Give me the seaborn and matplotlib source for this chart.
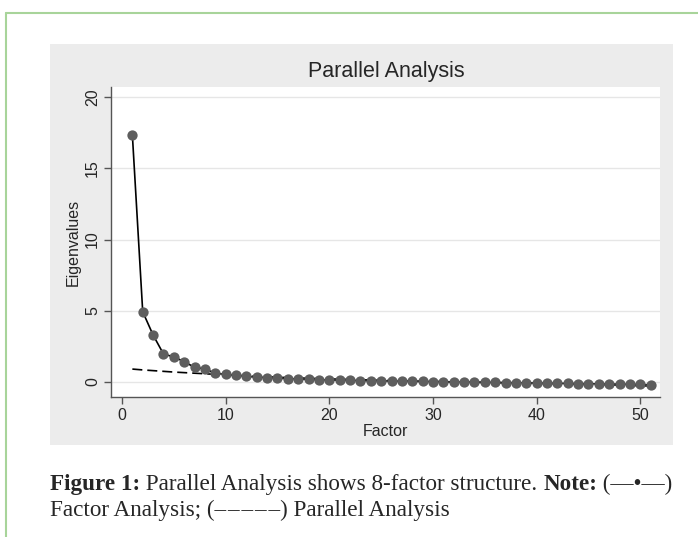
import numpy as np
import pandas as pd
import seaborn as sns
import matplotlib.pyplot as plt
from matplotlib.patches import Rectangle
from matplotlib.lines import Line2D

# Eigenvalues
factors = list(range(1, 52))
fa_eigen = [17.35, 4.93, 3.30, 1.97, 1.76, 1.43, 1.03, 0.92, 0.62, 0.53,
            0.48, 0.40, 0.34, 0.31, 0.27, 0.24, 0.22, 0.18, 0.16, 0.14,
            0.13, 0.12, 0.10, 0.09, 0.08, 0.07, 0.06, 0.05, 0.04, 0.03,
            0.02, 0.01, 0.00, -0.01, -0.02, -0.03, -0.04, -0.05, -0.06, -0.07,
            -0.08, -0.09, -0.10, -0.11, -0.12, -0.13, -0.14, -0.15, -0.16, -0.17,
            -0.20]
pa_eigen = [0.91, 0.85, 0.80, 0.75, 0.70, 0.66, 0.62, 0.58, 0.54, 0.50,
            0.47, 0.43, 0.40, 0.37, 0.34, 0.31, 0.29, 0.26, 0.24, 0.22,
            0.20, 0.18, 0.16, 0.14, 0.12, 0.10, 0.08, 0.07, 0.05, 0.04,
            0.02, 0.01, 0.00, -0.02, -0.03, -0.04, -0.06, -0.07, -0.08, -0.10,
            -0.11, -0.12, -0.14, -0.15, -0.17, -0.18, -0.20, -0.22, -0.24, -0.26,
            -0.28]

title = "Parallel Analysis"
x_ticks = [0, 10, 20, 30, 40, 50]
y_ticks = [0, 5, 10, 15, 20]

df = pd.DataFrame({"factor": factors, "fa": fa_eigen, "pa": pa_eigen})

sns.set_style("white")
plt.rcParams["font.family"] = ["Liberation Sans", "DejaVu Sans"]

W, H = 698, 537
fig = plt.figure(figsize=(W / 100, H / 100), dpi=100)
fig.patch.set_facecolor("white")

# green frame lines of the page
fig.add_artist(Line2D([6 / W, 1], [1 - 13 / H, 1 - 13 / H], color="#a8d49a", lw=1.5))
fig.add_artist(Line2D([6 / W, 6 / W], [0, 1 - 13 / H], color="#a8d49a", lw=1.5))

# gray Stata-style graph region
fig.add_artist(Rectangle((50 / W, 1 - 445 / H), 623 / W, 401 / H,
                         transform=fig.transFigure, facecolor="#ececec",
                         edgecolor="none", zorder=0))

ax = fig.add_axes([111 / W, 1 - 397 / H, 549 / W, 310 / H])
ax.set_facecolor("white")

sns.lineplot(data=df, x="factor", y="pa", ax=ax, color="black", lw=1.2,
             linestyle=(0, (6, 3)), zorder=2)
sns.lineplot(data=df, x="factor", y="fa", ax=ax, color="black", lw=1.2, zorder=3)
sns.scatterplot(data=df, x="factor", y="fa", ax=ax, color="#5e5e5e", s=55,
                edgecolor="#5e5e5e", linewidth=0, zorder=4)

ax.set_xlim(-1.06, 51.9)
ax.set_ylim(-1.05, 20.7)
ax.set_xticks(x_ticks)
ax.set_yticks(y_ticks)
ax.yaxis.grid(True, color="#e6e6e6", lw=1)
ax.set_axisbelow(True)
for side in ["top", "right"]:
    ax.spines[side].set_visible(False)
for side in ["left", "bottom"]:
    ax.spines[side].set_color("#555555")
    ax.spines[side].set_linewidth(1)
ax.tick_params(axis="both", which="major", length=5, width=1, color="#555555",
               labelsize=11.5, direction="out", bottom=True, left=True, pad=3)
for lbl in ax.get_yticklabels():
    lbl.set_rotation(90)
    lbl.set_va("center")
ax.set_xlabel("Factor", fontsize=11.5, labelpad=1)
ax.set_ylabel("Eigenvalues", fontsize=11.5, labelpad=3)
fig.text(386 / W, 1 - 72 / H, title, fontsize=15.5, ha="center", va="center")

# caption below the graph, with bold parts
fig.canvas.draw()
renderer = fig.canvas.get_renderer()
serif = ["Liberation Serif", "DejaVu Serif"]


def write_line(pieces, x_px, y_px, size):
    x = x_px
    texts = []
    for txt, bold in pieces:
        t = fig.text(x / W, 1 - y_px / H, txt, fontsize=size, family=serif,
                     weight="bold" if bold else "normal", va="baseline", ha="left")
        bb = t.get_window_extent(renderer=renderer)
        x += bb.width
        texts.append(t)
    return texts, x - x_px


dash = "\u200a".join(["\u2013"] * 5)
line1 = [("Figure 1:", True), (" Parallel Analysis shows 8-factor structure. ", False),
         ("Note:", True), (" (\u2014\u2022\u2014)", False)]
line2 = [("Factor Analysis; (" + dash + ") Parallel Analysis", False)]

# size the caption so that the first line spans the graph width
probe, width = write_line(line1, 50, 490, 10)
for t in probe:
    t.remove()
cap_size = 10 * 623 / width
write_line(line1, 50, 490, cap_size)
write_line(line2, 50, 516, cap_size)

fig.savefig("out.png", dpi=100)
